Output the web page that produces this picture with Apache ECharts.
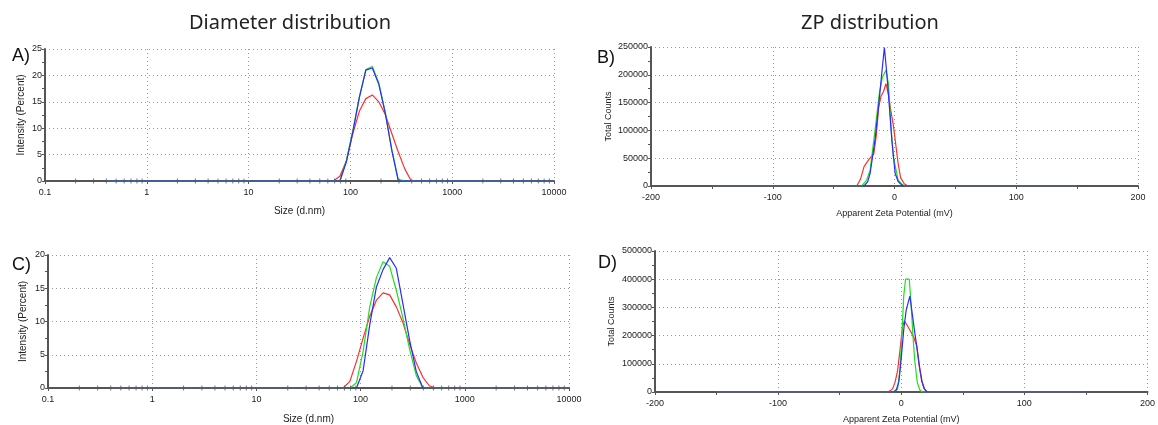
<!DOCTYPE html>
<html><head><meta charset="utf-8">
<script src="https://cdn.jsdelivr.net/npm/echarts@6/dist/echarts.min.js"></script>
<style>html,body{margin:0;padding:0;background:#fff}#c{width:1158px;height:425px}</style>
</head><body><div id="c"></div>
<script>
// ---------- data ----------
const sizeBins = [0.4, 68.06, 78.82, 91.28, 105.7, 122.4, 141.8, 164.2, 190.1, 220.2, 255.0, 295.3, 342.0, 396.1, 458.7, 531.2, 10000];
const aRed   = [0, 0, 0.9, 3.8, 9.0, 13.2, 15.6, 16.3, 15.0, 12.6, 9.0, 5.5, 2.3, 0, 0, 0, 0];
const aGreen = [0, 0, 0, 3.9, 9.6, 15.9, 21.1, 21.7, 18.6, 13.0, 6.0, 0.3, 0, 0, 0, 0, 0];
const aBlue  = [0, 0, 0, 3.6, 9.3, 15.8, 21.0, 21.4, 18.3, 12.8, 5.8, 0, 0, 0, 0, 0, 0];

const cRed   = [0, 0, 1.0, 4.0, 7.5, 10.8, 13.2, 14.3, 14.0, 12.2, 9.8, 6.6, 3.8, 1.6, 0.3, 0, 0];
const cGreen = [0, 0, 0, 0.8, 5.5, 12.2, 16.6, 19.0, 18.3, 14.7, 10.5, 5.8, 1.9, 0, 0, 0, 0];
const cBlue  = [0, 0, 0, 0, 2.6, 9.5, 15.2, 17.8, 19.6, 18.0, 12.6, 7.2, 2.5, 0, 0, 0, 0];

const bRedZ   = [-150, -31, -28, -25, -21, -17, -15, -13, -11, -9, -7, -5, -3, -1, 1, 3, 5, 8, 11, 150];
const bRedV   = [0, 0, 12000, 35000, 48000, 58000, 90000, 142000, 162000, 170000, 184000, 165000, 135000, 110000, 75000, 40000, 15000, 4000, 0, 0];
const bGreenZ = [-150, -27, -23, -20, -16, -12.5, -10, -7, -5, -3, -1, 3, 6, 9, 150];
const bGreenV = [0, 0, 10000, 29000, 100000, 166000, 195000, 208000, 184000, 112000, 53000, 11000, 3000, 0, 0];
const bBlueZ  = [-150, -25, -22, -20, -16, -13, -10.5, -8.3, -6.3, -4.2, -2.2, 0.5, 3, 7, 150];
const bBlueV  = [0, 0, 8000, 23000, 83000, 145000, 202000, 249000, 202000, 142000, 83000, 23000, 8000, 0, 0];

const dRedZ   = [-150, -11, -9, -7, -5, -3, -1, 1, 2.5, 5, 8, 10, 12.5, 14.5, 16.5, 18.5, 21, 150];
const dRedV   = [0, 0, 4000, 12000, 35000, 75000, 150000, 230000, 252000, 235000, 212000, 196000, 165000, 95000, 40000, 12000, 0, 0];
const dGreenZ = [-150, -6, -3, -1, 0.5, 2, 3.5, 6.5, 8, 9.5, 11, 13, 15, 17, 150];
const dGreenV = [0, 0, 10000, 80000, 200000, 340000, 400000, 400000, 310000, 200000, 110000, 35000, 8000, 0, 0];
const dBlueZ  = [-150, -6, -4, -2, 0, 2, 4, 7, 9, 11, 13, 15, 17, 19, 21, 150];
const dBlueV  = [0, 0, 8000, 35000, 120000, 220000, 290000, 340000, 275000, 210000, 150000, 85000, 35000, 10000, 0, 0];

const logMinorTicks = [0.2,0.3,0.4,0.5,0.6,0.7,0.8,0.9, 2,3,4,5,6,7,8,9, 20,30,40,50,60,70,80,90,
                       200,300,400,500,600,700,800,900, 2000,3000,4000,5000,6000,7000,8000,9000];

const titles = ['Diameter distribution', 'ZP distribution'];
const panelLabels = ['A)', 'B)', 'C)', 'D)'];

// ---------- styling ----------
const FF = 'Liberation Sans, Arial, sans-serif';
const RED = '#ff2e2e', GREEN = '#1ee01e', BLUE = '#2b2bff';
const AX = '#555';
const LBL = '#222';
const gridLine = { show: true, lineStyle: { color: '#9a9a9a', type: [1, 3], width: 1 } };

const pair = (xs, ys) => xs.map((x, i) => [x, ys[i]]);

function xLog(gi, gap) {
  return {
    type: 'log', logBase: 10, gridIndex: gi, min: 0.1, max: 10000,
    name: 'Size (d.nm)', nameLocation: 'middle', nameGap: gap,
    nameTextStyle: { fontSize: 10, color: LBL, fontFamily: FF },
    axisLine: { show: true, onZero: false, lineStyle: { color: AX, width: 2 } },
    axisTick: { show: true, length: 3, lineStyle: { color: AX } },
    axisLabel: { fontSize: 9, color: LBL, fontFamily: FF, margin: 7,
                 formatter: v => String(Number(Number(v).toPrecision(3))) },
    splitLine: gridLine
  };
}
function xZeta(gi, gap) {
  return {
    type: 'value', gridIndex: gi, min: -200, max: 200, interval: 100,
    name: 'Apparent Zeta Potential (mV)', nameLocation: 'middle', nameGap: gap,
    nameTextStyle: { fontSize: 9, color: LBL, fontFamily: FF },
    axisLine: { show: true, onZero: false, lineStyle: { color: AX, width: 2 } },
    axisTick: { show: true, length: 3, lineStyle: { color: AX } },
    minorTick: { show: true, splitNumber: 2, length: 3, lineStyle: { color: AX } },
    axisLabel: { fontSize: 9, color: LBL, fontFamily: FF, margin: 7, formatter: v => String(v) },
    splitLine: gridLine
  };
}
function yAx(gi, max, interval, name, gap, fs) {
  return {
    type: 'value', gridIndex: gi, min: 0, max: max, interval: interval,
    name: name, nameLocation: 'middle', nameGap: gap, nameRotate: 90,
    nameTextStyle: { fontSize: fs, color: LBL, fontFamily: FF },
    axisLine: { show: true, onZero: false, lineStyle: { color: AX, width: 2 } },
    axisTick: { show: true, length: 3, lineStyle: { color: AX } },
    minorTick: { show: true, splitNumber: 2, length: 3, lineStyle: { color: AX } },
    axisLabel: { fontSize: 9, color: LBL, fontFamily: FF, margin: 3, formatter: v => String(v) },
    splitLine: gridLine
  };
}
function line(gi, data, color, z) {
  return { type: 'line', xAxisIndex: gi, yAxisIndex: gi, data: data, symbol: 'none', showSymbol: false,
           lineStyle: { color: color, width: 1.2 }, itemStyle: { color: color }, z: z, silent: true };
}
function minorTicks(gi) {
  return { type: 'scatter', xAxisIndex: gi, yAxisIndex: gi, data: logMinorTicks.map(v => [v, 0]),
           symbol: 'rect', symbolSize: [1, 5], itemStyle: { color: AX }, z: 10, silent: true };
}

const chart = echarts.init(document.getElementById('c'), null, { renderer: 'canvas' });
chart.setOption({
  animation: false,
  backgroundColor: '#fff',
  grid: [
    { left: 45, top: 49, width: 509, height: 132 },
    { left: 651, top: 47, width: 487, height: 139 },
    { left: 48, top: 255, width: 521, height: 135 },
    { left: 655, top: 251, width: 493, height: 142 }
  ],
  xAxis: [ xLog(0, 25), xZeta(1, 23), xLog(2, 26), xZeta(3, 23) ],
  yAxis: [
    yAx(0, 25, 5, 'Intensity (Percent)', 19, 10),
    yAx(1, 250000, 50000, 'Total Counts', 38, 9),
    yAx(2, 20, 5, 'Intensity (Percent)', 20, 10),
    yAx(3, 500000, 100000, 'Total Counts', 39, 9)
  ],
  graphic: [
    { type: 'text', x: 290, y: 23, style: { text: titles[0], fontSize: 20, fontFamily: 'Noto Sans, sans-serif', fill: '#222', align: 'center', verticalAlign: 'middle' } },
    { type: 'text', x: 870, y: 23, style: { text: titles[1], fontSize: 20, fontFamily: 'Noto Sans, sans-serif', fill: '#222', align: 'center', verticalAlign: 'middle' } },
    { type: 'text', x: 12, y: 56, style: { text: panelLabels[0], fontSize: 18, fontFamily: FF, fill: '#111', verticalAlign: 'middle' } },
    { type: 'text', x: 597, y: 58, style: { text: panelLabels[1], fontSize: 18, fontFamily: FF, fill: '#111', verticalAlign: 'middle' } },
    { type: 'text', x: 12, y: 265, style: { text: panelLabels[2], fontSize: 18, fontFamily: FF, fill: '#111', verticalAlign: 'middle' } },
    { type: 'text', x: 598, y: 263, style: { text: panelLabels[3], fontSize: 18, fontFamily: FF, fill: '#111', verticalAlign: 'middle' } }
  ],
  series: [
    line(0, pair(sizeBins, aRed), RED, 3), line(0, pair(sizeBins, aGreen), GREEN, 4), line(0, pair(sizeBins, aBlue), BLUE, 5),
    minorTicks(0),
    line(1, pair(bRedZ, bRedV), RED, 3), line(1, pair(bGreenZ, bGreenV), GREEN, 4), line(1, pair(bBlueZ, bBlueV), BLUE, 5),
    line(2, pair(sizeBins, cRed), RED, 3), line(2, pair(sizeBins, cGreen), GREEN, 4), line(2, pair(sizeBins, cBlue), BLUE, 5),
    minorTicks(2),
    line(3, pair(dRedZ, dRedV), RED, 3), line(3, pair(dGreenZ, dGreenV), GREEN, 4), line(3, pair(dBlueZ, dBlueV), BLUE, 5)
  ]
});
</script>
</body></html>
